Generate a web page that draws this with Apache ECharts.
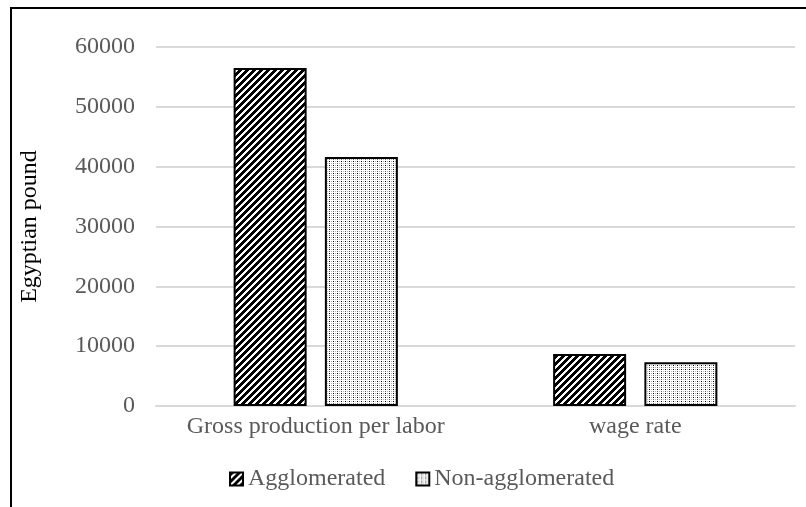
<!DOCTYPE html>
<html>
<head>
<meta charset="utf-8">
<script src="https://cdn.jsdelivr.net/npm/echarts@6/dist/echarts.min.js"></script>
<style>
  html, body { margin: 0; padding: 0; background: #fff; }
  #main { width: 806px; height: 507px; }
</style>
</head>
<body>
<div id="main"></div>
<script>
// data
var categories = ['Gross production per labor', 'wage rate'];
var seriesNames = ['Agglomerated', 'Non-agglomerated'];
var agglomerated = [56500, 8700];
var nonAgglomerated = [41600, 7300];
var yTicks = [0, 10000, 20000, 30000, 40000, 50000, 60000];

// hatch fill: dark upward diagonal
function stripeTile() {
  var c = document.createElement('canvas');
  c.width = 7; c.height = 7;
  var ctx = c.getContext('2d');
  ctx.fillStyle = '#fff';
  ctx.fillRect(0, 0, 7, 7);
  ctx.fillStyle = '#000';
  for (var y = 0; y < 7; y++) {
    for (var x = 0; x < 7; x++) {
      if ((x + y) % 7 < 4) ctx.fillRect(x, y, 1, 1);
    }
  }
  return c;
}
// dotted fill
function dotTile() {
  var c = document.createElement('canvas');
  c.width = 4; c.height = 4;
  var ctx = c.getContext('2d');
  ctx.fillStyle = '#fff';
  ctx.fillRect(0, 0, 4, 4);
  ctx.fillStyle = '#000';
  ctx.fillRect(1, 1, 1, 1);
  ctx.fillStyle = '#666';
  ctx.fillRect(1, 3, 1, 1);
  ctx.fillStyle = '#bbb';
  ctx.fillRect(3, 1, 1, 1);
  ctx.fillRect(3, 3, 1, 1);
  return c;
}

var stripeFill = { image: stripeTile(), repeat: 'repeat' };
var dotFill = { image: dotTile(), repeat: 'repeat' };

var font = 'Liberation Serif';
var chart = echarts.init(document.getElementById('main'));
chart.setOption({
  backgroundColor: '#fff',
  animation: false,
  graphic: [{
    type: 'rect',
    shape: { x: 11, y: 8, width: 810, height: 520 },
    style: { fill: 'none', stroke: '#000', lineWidth: 2 },
    silent: true
  }],
  grid: { left: 156, right: 11, top: 47, bottom: 101 },
  legend: {
    data: seriesNames,
    top: 462,
    left: 224,
    icon: 'rect',
    itemWidth: 13,
    itemHeight: 13,
    itemGap: 30,
    textStyle: { fontFamily: font, fontSize: 24, color: '#595959' }
  },
  xAxis: {
    type: 'category',
    data: categories,
    axisLine: { lineStyle: { color: '#d9d9d9', width: 2 } },
    axisTick: { show: false },
    axisLabel: { interval: 0, fontFamily: font, fontSize: 24, color: '#595959', margin: 9 }
  },
  yAxis: {
    type: 'value',
    min: yTicks[0],
    max: yTicks[yTicks.length - 1],
    interval: yTicks[1] - yTicks[0],
    name: 'Egyptian pound',
    nameLocation: 'middle',
    nameGap: 114,
    nameTextStyle: { fontFamily: font, fontSize: 24, color: '#000' },
    axisLine: { show: false },
    axisTick: { show: false },
    splitLine: { lineStyle: { color: '#d9d9d9', width: 2 } },
    axisLabel: {
      fontFamily: font, fontSize: 24, color: '#595959', margin: 21,
      formatter: function (v) { return String(v); }
    }
  },
  series: [{
    name: seriesNames[0],
    type: 'bar',
    data: agglomerated,
    barWidth: 73,
    barGap: '25%',
    itemStyle: { color: stripeFill, borderColor: '#000', borderWidth: 2 }
  }, {
    name: seriesNames[1],
    type: 'bar',
    data: nonAgglomerated,
    barWidth: 73,
    itemStyle: { color: dotFill, borderColor: '#000', borderWidth: 2 }
  }]
});
</script>
</body>
</html>
